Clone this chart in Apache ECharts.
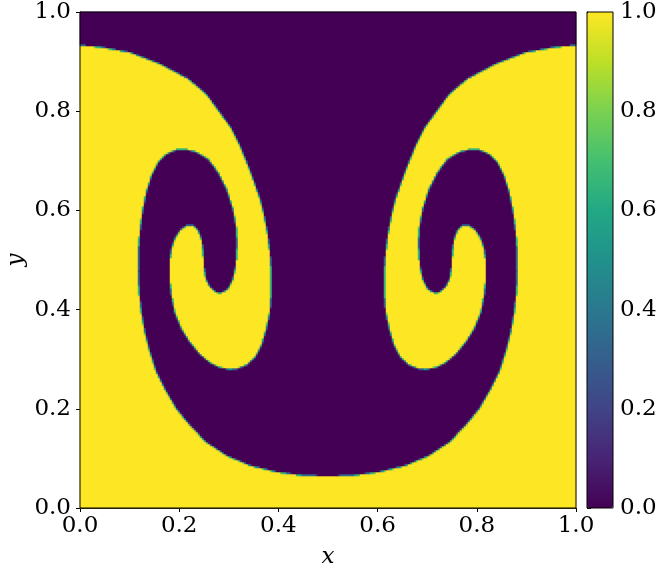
<!DOCTYPE html>
<html>
<head>
<meta charset="utf-8">
<script src="https://cdn.jsdelivr.net/npm/echarts@6/dist/echarts.min.js"></script>
<style>
html,body{margin:0;padding:0;background:#fff;}
#chart{width:659px;height:568px;}
</style>
</head>
<body>
<div id="chart"></div>
<script>
// ---- Data ----
// Outline of the yellow (value 1) region in the left half (x in [0,0.5]);
// the right half is the mirror image of the left half.
const outlineX = [0.000,0.040,0.101,0.161,0.218,0.255,0.282,0.306,0.3226,0.339,0.349,0.363,0.370,0.378,0.383,0.386,0.386,0.383,0.376,0.366,0.353,0.336,0.316,0.302,
  0.282,0.262,0.242,0.222,0.205,0.1915,0.185,0.181,0.181,0.185,0.1915,0.202,0.215,0.2285,0.2386,0.245,0.249,0.250,0.254,0.262,0.2755,0.2856,0.299,0.309,0.3145,0.317,0.316,0.309,0.296,0.279,0.259,0.235,0.215,0.195,0.175,0.158,0.1445,0.134,0.126,0.121,0.118,0.1176,0.1196,0.124,0.131,0.141,0.1546,0.171,0.195,0.222,0.255,0.296,0.343,0.3965,0.450,0.500,
  0.500,0.000];
const outlineY = [0.933,0.930,0.919,0.896,0.866,0.835,0.798,0.765,0.731,0.691,0.664,0.624,0.597,0.556,0.516,0.476,0.435,0.395,0.362,0.328,0.304,0.289,0.281,0.280,
  0.284,0.294,0.311,0.335,0.362,0.395,0.429,0.462,0.496,0.523,0.543,0.560,0.570,0.570,0.560,0.543,0.516,0.489,0.462,0.446,0.435,0.434,0.442,0.462,0.489,0.530,0.563,0.603,0.644,0.677,0.704,0.718,0.723,0.723,0.714,0.698,0.671,0.637,0.597,0.556,0.516,0.476,0.435,0.395,0.355,0.315,0.274,0.241,0.200,0.167,0.133,0.106,0.086,0.073,0.066,0.0645,
  0.000,0.000];
const axisTicks = [0.0, 0.2, 0.4, 0.6, 0.8, 1.0];
const viridis = ['#440154','#482475','#414487','#355f8d','#2a788e','#21918c','#22a884','#44bf70','#7ad151','#bddf26','#fde725'];

// ---- Rasterize the field onto a grid ----
const N = 248, SS = 3;
function inside(px, py) {
  let c = false;
  const n = outlineX.length;
  for (let i = 0, j = n - 1; i < n; j = i++) {
    const xi = outlineX[i], yi = outlineY[i], xj = outlineX[j], yj = outlineY[j];
    if ((yi > py) !== (yj > py) && px < (xj - xi) * (py - yi) / (yj - yi) + xi) c = !c;
  }
  return c;
}
const cats = [];
for (let i = 0; i < N; i++) cats.push(i);
const field = [];
for (let j = 0; j < N; j++) {
  for (let i = 0; i < N; i++) {
    let cnt = 0;
    for (let a = 0; a < SS; a++) {
      for (let b = 0; b < SS; b++) {
        let xs = (i + (a + 0.5) / SS) / N;
        const ys = (j + (b + 0.5) / SS) / N;
        if (xs > 0.5) xs = 1 - xs;
        if (inside(xs, ys)) cnt++;
      }
    }
    field.push([i, j, cnt / (SS * SS)]);
  }
}

const font = 'DejaVu Serif';
const labelStyle = {color: '#000', fontFamily: font, fontSize: 23};
const tickFmt = v => v.toFixed(1);
const chart = echarts.init(document.getElementById('chart'), null, {renderer: 'canvas'});
chart.setOption({
  animation: false,
  backgroundColor: '#fff',
  grid: [
    {left: 80, top: 12, width: 496, height: 496, containLabel: false, outerBoundsMode: 'none'},
    {left: 587, top: 12, width: 26, height: 496, containLabel: false, outerBoundsMode: 'none'}
  ],
  xAxis: [
    {type: 'category', gridIndex: 0, data: cats, show: false},
    {type: 'value', gridIndex: 0, min: 0, max: 1, interval: 0.2, position: 'bottom',
      axisLine: {show: true, lineStyle: {color: '#000', width: 1}},
      axisTick: {show: true, inside: false, length: 4, lineStyle: {color: '#000'}},
      splitLine: {show: false},
      axisLabel: Object.assign({margin: 7, formatter: tickFmt}, labelStyle),
      name: 'x', nameLocation: 'middle', nameGap: 38, nameMoveOverlap: false,
      nameTextStyle: {color: '#000', fontFamily: font, fontStyle: 'italic', fontSize: 23}},
    {type: 'value', gridIndex: 1, min: 0, max: 1, show: false}
  ],
  yAxis: [
    {type: 'category', gridIndex: 0, data: cats, show: false},
    {type: 'value', gridIndex: 0, min: 0, max: 1, interval: 0.2, position: 'left',
      axisLine: {show: true, lineStyle: {color: '#000', width: 1}},
      axisTick: {show: true, inside: false, length: 4, lineStyle: {color: '#000'}},
      splitLine: {show: false},
      axisLabel: Object.assign({margin: 9, formatter: tickFmt}, labelStyle),
      name: 'y', nameLocation: 'middle', nameGap: 52, nameRotate: 90, nameMoveOverlap: false,
      nameTextStyle: {color: '#000', fontFamily: font, fontStyle: 'italic', fontSize: 23}},
    {type: 'value', gridIndex: 1, min: 0, max: 1, interval: 0.2, position: 'right',
      axisLine: {show: true, lineStyle: {color: '#000', width: 1}},
      axisTick: {show: true, inside: false, length: 4, lineStyle: {color: '#000'}},
      splitLine: {show: false},
      axisLabel: Object.assign({margin: 7, formatter: tickFmt}, labelStyle)}
  ],
  visualMap: {
    type: 'continuous', min: 0, max: 1, seriesIndex: 0, show: true,
    orient: 'vertical', left: 587, top: 12, itemWidth: 26, itemHeight: 496,
    text: null, showLabel: false, calculable: false, padding: 0, hoverLink: false,
    inRange: {color: viridis}
  },
  series: [{
    type: 'heatmap', xAxisIndex: 0, yAxisIndex: 0, data: field,
    progressive: 0, itemStyle: {borderWidth: 0}, emphasis: {disabled: true}
  }],
  graphic: [
    {type: 'rect', shape: {x: 80, y: 12, width: 496, height: 496}, z: 100,
      style: {fill: 'none', stroke: '#000', lineWidth: 1}, silent: true},
    {type: 'rect', shape: {x: 587, y: 12, width: 26, height: 496}, z: 100,
      style: {fill: 'none', stroke: '#000', lineWidth: 1}, silent: true}
  ]
});
</script>
</body>
</html>
